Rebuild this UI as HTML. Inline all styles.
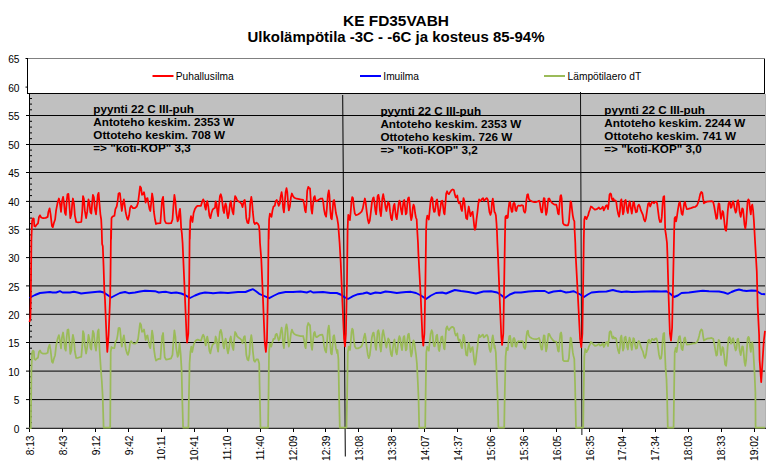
<!DOCTYPE html>
<html><head><meta charset="utf-8"><title>chart</title>
<style>
html,body{margin:0;padding:0;background:#fff;}
body{width:772px;height:472px;overflow:hidden;font-family:"Liberation Sans",sans-serif;}
svg{display:block;font-family:"Liberation Sans",sans-serif;}
.ax{font-size:10.2px;fill:#000;}
.an{font-size:11.7px;font-weight:bold;fill:#000;}
.ti{font-size:15px;font-weight:bold;fill:#000;text-anchor:middle;}
</style></head><body>
<svg width="772" height="472" viewBox="0 0 772 472">
<rect x="0" y="0" width="772" height="472" fill="#fff"/>
<text class="ti" x="396" y="25.7" textLength="106" lengthAdjust="spacingAndGlyphs">KE FD35VABH</text>
<text class="ti" x="396" y="41.8" textLength="297" lengthAdjust="spacingAndGlyphs">Ulkolämpötila -3C - -6C ja kosteus 85-94%</text>
<rect x="29" y="94" width="737" height="334.5" fill="#c0c0c0"/>
<rect x="765" y="94" width="1" height="334.5" fill="#b2b2b2"/>
<line x1="29" x2="765" y1="399.6" y2="399.6" stroke="#000" stroke-width="1"/>
<line x1="29" x2="765" y1="371.1" y2="371.1" stroke="#000" stroke-width="1"/>
<line x1="29" x2="765" y1="342.5" y2="342.5" stroke="#000" stroke-width="1"/>
<line x1="29" x2="765" y1="314.3" y2="314.3" stroke="#000" stroke-width="1"/>
<line x1="29" x2="765" y1="285.9" y2="285.9" stroke="#000" stroke-width="1"/>
<line x1="29" x2="765" y1="257.6" y2="257.6" stroke="#000" stroke-width="1"/>
<line x1="29" x2="765" y1="229.2" y2="229.2" stroke="#000" stroke-width="1"/>
<line x1="29" x2="765" y1="201.4" y2="201.4" stroke="#000" stroke-width="1"/>
<line x1="29" x2="765" y1="172.5" y2="172.5" stroke="#000" stroke-width="1"/>
<line x1="29" x2="765" y1="144.5" y2="144.5" stroke="#000" stroke-width="1"/>
<line x1="29" x2="765" y1="115.5" y2="115.5" stroke="#000" stroke-width="1"/>
<rect x="27" y="58" width="738" height="36" fill="#fff"/>
<line x1="27.5" x2="765" y1="58.5" y2="58.5" stroke="#808080" stroke-width="1.2"/>
<line x1="27" x2="765" y1="93.5" y2="93.5" stroke="#000" stroke-width="1"/>
<line x1="27.5" x2="27.5" y1="58" y2="94" stroke="#000" stroke-width="1"/>
<line x1="764.5" x2="764.5" y1="59" y2="94" stroke="#000" stroke-width="1"/>
<line x1="29.5" x2="29.5" y1="94" y2="429" stroke="#000" stroke-width="1"/>
<line x1="29" x2="766" y1="428.3" y2="428.3" stroke="#000" stroke-width="1"/>
<line x1="26" x2="30" y1="428.3" y2="428.3" stroke="#000" stroke-width="1"/>
<text class="ax" x="19.5" y="432.9" text-anchor="end">0</text>
<line x1="26" x2="30" y1="399.6" y2="399.6" stroke="#000" stroke-width="1"/>
<text class="ax" x="19.5" y="404.2" text-anchor="end">5</text>
<line x1="26" x2="30" y1="371.1" y2="371.1" stroke="#000" stroke-width="1"/>
<text class="ax" x="19.5" y="375.7" text-anchor="end">10</text>
<line x1="26" x2="30" y1="342.5" y2="342.5" stroke="#000" stroke-width="1"/>
<text class="ax" x="19.5" y="347.1" text-anchor="end">15</text>
<line x1="26" x2="30" y1="314.3" y2="314.3" stroke="#000" stroke-width="1"/>
<text class="ax" x="19.5" y="318.9" text-anchor="end">20</text>
<line x1="26" x2="30" y1="285.9" y2="285.9" stroke="#000" stroke-width="1"/>
<text class="ax" x="19.5" y="290.5" text-anchor="end">25</text>
<line x1="26" x2="30" y1="257.6" y2="257.6" stroke="#000" stroke-width="1"/>
<text class="ax" x="19.5" y="262.2" text-anchor="end">30</text>
<line x1="26" x2="30" y1="229.2" y2="229.2" stroke="#000" stroke-width="1"/>
<text class="ax" x="19.5" y="233.8" text-anchor="end">35</text>
<line x1="26" x2="30" y1="201.4" y2="201.4" stroke="#000" stroke-width="1"/>
<text class="ax" x="19.5" y="206.0" text-anchor="end">40</text>
<line x1="26" x2="30" y1="172.5" y2="172.5" stroke="#000" stroke-width="1"/>
<text class="ax" x="19.5" y="177.1" text-anchor="end">45</text>
<line x1="26" x2="30" y1="144.5" y2="144.5" stroke="#000" stroke-width="1"/>
<text class="ax" x="19.5" y="149.1" text-anchor="end">50</text>
<line x1="26" x2="30" y1="115.5" y2="115.5" stroke="#000" stroke-width="1"/>
<text class="ax" x="19.5" y="120.1" text-anchor="end">55</text>
<line x1="25.5" x2="28" y1="87.1" y2="87.1" stroke="#000" stroke-width="1"/>
<text class="ax" x="19.5" y="91.7" text-anchor="end">60</text>
<line x1="25.5" x2="28" y1="58.5" y2="58.5" stroke="#000" stroke-width="1"/>
<text class="ax" x="19.5" y="63.1" text-anchor="end">65</text>
<line x1="29.5" x2="32" y1="422.6" y2="422.6" stroke="#000" stroke-width="1"/>
<line x1="29.5" x2="32" y1="416.8" y2="416.8" stroke="#000" stroke-width="1"/>
<line x1="29.5" x2="32" y1="411.1" y2="411.1" stroke="#000" stroke-width="1"/>
<line x1="29.5" x2="32" y1="405.3" y2="405.3" stroke="#000" stroke-width="1"/>
<line x1="29.5" x2="32" y1="393.9" y2="393.9" stroke="#000" stroke-width="1"/>
<line x1="29.5" x2="32" y1="388.2" y2="388.2" stroke="#000" stroke-width="1"/>
<line x1="29.5" x2="32" y1="382.5" y2="382.5" stroke="#000" stroke-width="1"/>
<line x1="29.5" x2="32" y1="376.8" y2="376.8" stroke="#000" stroke-width="1"/>
<line x1="29.5" x2="32" y1="365.4" y2="365.4" stroke="#000" stroke-width="1"/>
<line x1="29.5" x2="32" y1="359.7" y2="359.7" stroke="#000" stroke-width="1"/>
<line x1="29.5" x2="32" y1="353.9" y2="353.9" stroke="#000" stroke-width="1"/>
<line x1="29.5" x2="32" y1="348.2" y2="348.2" stroke="#000" stroke-width="1"/>
<line x1="29.5" x2="32" y1="336.9" y2="336.9" stroke="#000" stroke-width="1"/>
<line x1="29.5" x2="32" y1="331.2" y2="331.2" stroke="#000" stroke-width="1"/>
<line x1="29.5" x2="32" y1="325.6" y2="325.6" stroke="#000" stroke-width="1"/>
<line x1="29.5" x2="32" y1="319.9" y2="319.9" stroke="#000" stroke-width="1"/>
<line x1="29.5" x2="32" y1="308.6" y2="308.6" stroke="#000" stroke-width="1"/>
<line x1="29.5" x2="32" y1="302.9" y2="302.9" stroke="#000" stroke-width="1"/>
<line x1="29.5" x2="32" y1="297.3" y2="297.3" stroke="#000" stroke-width="1"/>
<line x1="29.5" x2="32" y1="291.6" y2="291.6" stroke="#000" stroke-width="1"/>
<line x1="29.5" x2="32" y1="280.2" y2="280.2" stroke="#000" stroke-width="1"/>
<line x1="29.5" x2="32" y1="274.6" y2="274.6" stroke="#000" stroke-width="1"/>
<line x1="29.5" x2="32" y1="268.9" y2="268.9" stroke="#000" stroke-width="1"/>
<line x1="29.5" x2="32" y1="263.3" y2="263.3" stroke="#000" stroke-width="1"/>
<line x1="29.5" x2="32" y1="251.9" y2="251.9" stroke="#000" stroke-width="1"/>
<line x1="29.5" x2="32" y1="246.3" y2="246.3" stroke="#000" stroke-width="1"/>
<line x1="29.5" x2="32" y1="240.6" y2="240.6" stroke="#000" stroke-width="1"/>
<line x1="29.5" x2="32" y1="234.9" y2="234.9" stroke="#000" stroke-width="1"/>
<line x1="29.5" x2="32" y1="223.7" y2="223.7" stroke="#000" stroke-width="1"/>
<line x1="29.5" x2="32" y1="218.1" y2="218.1" stroke="#000" stroke-width="1"/>
<line x1="29.5" x2="32" y1="212.5" y2="212.5" stroke="#000" stroke-width="1"/>
<line x1="29.5" x2="32" y1="207.0" y2="207.0" stroke="#000" stroke-width="1"/>
<line x1="29.5" x2="32" y1="195.6" y2="195.6" stroke="#000" stroke-width="1"/>
<line x1="29.5" x2="32" y1="189.8" y2="189.8" stroke="#000" stroke-width="1"/>
<line x1="29.5" x2="32" y1="184.1" y2="184.1" stroke="#000" stroke-width="1"/>
<line x1="29.5" x2="32" y1="178.3" y2="178.3" stroke="#000" stroke-width="1"/>
<line x1="29.5" x2="32" y1="166.9" y2="166.9" stroke="#000" stroke-width="1"/>
<line x1="29.5" x2="32" y1="161.3" y2="161.3" stroke="#000" stroke-width="1"/>
<line x1="29.5" x2="32" y1="155.7" y2="155.7" stroke="#000" stroke-width="1"/>
<line x1="29.5" x2="32" y1="150.1" y2="150.1" stroke="#000" stroke-width="1"/>
<line x1="29.5" x2="32" y1="138.7" y2="138.7" stroke="#000" stroke-width="1"/>
<line x1="29.5" x2="32" y1="132.9" y2="132.9" stroke="#000" stroke-width="1"/>
<line x1="29.5" x2="32" y1="127.1" y2="127.1" stroke="#000" stroke-width="1"/>
<line x1="29.5" x2="32" y1="121.3" y2="121.3" stroke="#000" stroke-width="1"/>
<line x1="29.5" x2="32" y1="109.8" y2="109.8" stroke="#000" stroke-width="1"/>
<line x1="29.5" x2="32" y1="104.1" y2="104.1" stroke="#000" stroke-width="1"/>
<line x1="29.5" x2="32" y1="98.5" y2="98.5" stroke="#000" stroke-width="1"/>
<line x1="29.5" x2="29.5" y1="428.5" y2="432" stroke="#000" stroke-width="1"/>
<text class="ax" transform="translate(33.7,435.5) rotate(-90)" text-anchor="end">8:13</text>
<line x1="62.5" x2="62.5" y1="428.5" y2="432" stroke="#000" stroke-width="1"/>
<text class="ax" transform="translate(66.6,435.5) rotate(-90)" text-anchor="end">8:43</text>
<line x1="95.5" x2="95.5" y1="428.5" y2="432" stroke="#000" stroke-width="1"/>
<text class="ax" transform="translate(99.6,435.5) rotate(-90)" text-anchor="end">9:12</text>
<line x1="128.5" x2="128.5" y1="428.5" y2="432" stroke="#000" stroke-width="1"/>
<text class="ax" transform="translate(132.5,435.5) rotate(-90)" text-anchor="end">9:42</text>
<line x1="161.5" x2="161.5" y1="428.5" y2="432" stroke="#000" stroke-width="1"/>
<text class="ax" transform="translate(165.4,435.5) rotate(-90)" text-anchor="end">10:11</text>
<line x1="194.5" x2="194.5" y1="428.5" y2="432" stroke="#000" stroke-width="1"/>
<text class="ax" transform="translate(198.3,435.5) rotate(-90)" text-anchor="end">10:41</text>
<line x1="227.5" x2="227.5" y1="428.5" y2="432" stroke="#000" stroke-width="1"/>
<text class="ax" transform="translate(231.3,435.5) rotate(-90)" text-anchor="end">11:10</text>
<line x1="260.5" x2="260.5" y1="428.5" y2="432" stroke="#000" stroke-width="1"/>
<text class="ax" transform="translate(264.2,435.5) rotate(-90)" text-anchor="end">11:40</text>
<line x1="293.5" x2="293.5" y1="428.5" y2="432" stroke="#000" stroke-width="1"/>
<text class="ax" transform="translate(297.1,435.5) rotate(-90)" text-anchor="end">12:09</text>
<line x1="325.5" x2="325.5" y1="428.5" y2="432" stroke="#000" stroke-width="1"/>
<text class="ax" transform="translate(330.1,435.5) rotate(-90)" text-anchor="end">12:39</text>
<line x1="358.5" x2="358.5" y1="428.5" y2="432" stroke="#000" stroke-width="1"/>
<text class="ax" transform="translate(363.0,435.5) rotate(-90)" text-anchor="end">13:08</text>
<line x1="391.5" x2="391.5" y1="428.5" y2="432" stroke="#000" stroke-width="1"/>
<text class="ax" transform="translate(395.9,435.5) rotate(-90)" text-anchor="end">13:38</text>
<line x1="424.5" x2="424.5" y1="428.5" y2="432" stroke="#000" stroke-width="1"/>
<text class="ax" transform="translate(428.9,435.5) rotate(-90)" text-anchor="end">14:07</text>
<line x1="457.5" x2="457.5" y1="428.5" y2="432" stroke="#000" stroke-width="1"/>
<text class="ax" transform="translate(461.8,435.5) rotate(-90)" text-anchor="end">14:37</text>
<line x1="490.5" x2="490.5" y1="428.5" y2="432" stroke="#000" stroke-width="1"/>
<text class="ax" transform="translate(494.7,435.5) rotate(-90)" text-anchor="end">15:06</text>
<line x1="523.5" x2="523.5" y1="428.5" y2="432" stroke="#000" stroke-width="1"/>
<text class="ax" transform="translate(527.6,435.5) rotate(-90)" text-anchor="end">15:36</text>
<line x1="556.5" x2="556.5" y1="428.5" y2="432" stroke="#000" stroke-width="1"/>
<text class="ax" transform="translate(560.6,435.5) rotate(-90)" text-anchor="end">16:05</text>
<line x1="589.5" x2="589.5" y1="428.5" y2="432" stroke="#000" stroke-width="1"/>
<text class="ax" transform="translate(593.5,435.5) rotate(-90)" text-anchor="end">16:35</text>
<line x1="622.5" x2="622.5" y1="428.5" y2="432" stroke="#000" stroke-width="1"/>
<text class="ax" transform="translate(626.4,435.5) rotate(-90)" text-anchor="end">17:04</text>
<line x1="655.5" x2="655.5" y1="428.5" y2="432" stroke="#000" stroke-width="1"/>
<text class="ax" transform="translate(659.4,435.5) rotate(-90)" text-anchor="end">17:34</text>
<line x1="688.5" x2="688.5" y1="428.5" y2="432" stroke="#000" stroke-width="1"/>
<text class="ax" transform="translate(692.3,435.5) rotate(-90)" text-anchor="end">18:03</text>
<line x1="721.5" x2="721.5" y1="428.5" y2="432" stroke="#000" stroke-width="1"/>
<text class="ax" transform="translate(725.2,435.5) rotate(-90)" text-anchor="end">18:33</text>
<line x1="754.5" x2="754.5" y1="428.5" y2="432" stroke="#000" stroke-width="1"/>
<text class="ax" transform="translate(758.2,435.5) rotate(-90)" text-anchor="end">19:02</text>
<line x1="342.7" y1="95" x2="345.3" y2="456.5" stroke="#000" stroke-width="1"/>
<line x1="580.5" y1="92" x2="581.9" y2="435" stroke="#111" stroke-width="1"/>
<polyline fill="none" stroke="#9bbb59" stroke-width="1.75" stroke-linejoin="round" points="29.5,428.2 30.4,428.2 30.8,428.2 30.8,428.2 31.2,391.2 31.4,370.3 32.0,355.6 32.1,352.5 33.0,350.6 33.8,351.4 34.3,358.8 35.0,359.5 35.4,359.9 36.7,358.5 38.0,357.7 39.0,351.7 40.0,350.5 40.0,350.5 41.2,352.8 43.1,353.7 45.0,353.7 45.7,353.7 47.7,352.8 48.3,348.4 49.6,344.6 50.0,346.8 50.6,350.3 51.9,361.7 52.5,362.4 52.8,362.9 53.8,359.0 55.1,355.2 56.1,346.1 56.2,345.3 57.6,338.8 58.9,335.1 60.0,340.8 60.0,341.1 61.0,348.4 62.0,337.2 62.5,335.0 63.1,332.5 64.1,339.6 64.9,348.7 65.8,350.6 66.7,337.0 67.5,329.9 68.4,329.5 69.3,339.6 70.0,349.2 70.3,353.9 71.4,350.2 72.2,340.0 72.9,334.8 73.8,339.2 74.0,340.3 74.9,351.8 76.2,358.0 77.5,357.9 78.1,357.8 81.2,356.7 81.3,356.8 82.3,345.2 83.0,331.1 83.9,333.8 84.8,345.6 85.0,346.5 86.1,353.5 87.2,347.1 88.5,334.9 89.5,339.6 90.0,344.2 90.4,348.1 91.3,349.5 92.1,339.8 92.9,330.8 93.9,333.5 94.9,345.3 95.0,345.5 96.0,350.6 97.0,340.3 97.8,331.3 98.6,329.5 99.6,350.0 100.9,370.0 101.8,381.0 102.7,396.7 103.6,427.5 110.2,427.5 110.7,352.0 111.5,347.0 112.4,347.9 114.4,348.2 115.0,344.5 115.4,342.0 116.7,340.1 117.6,335.3 118.5,328.0 119.6,327.9 120.0,328.7 121.0,339.3 121.8,346.6 122.8,339.7 123.9,335.4 124.9,342.7 125.0,343.3 125.8,348.9 127.1,353.6 128.0,354.9 128.8,351.8 129.1,350.6 130.1,342.9 131.1,341.1 133.0,343.5 134.9,343.7 135.0,343.7 136.8,342.6 138.1,338.9 139.2,330.1 140.0,323.7 140.1,323.1 141.0,324.6 142.0,331.8 143.1,331.4 144.0,329.5 144.9,334.9 145.0,335.7 145.6,340.0 146.6,336.1 147.5,335.4 148.5,341.2 149.5,346.3 150.3,348.2 151.1,341.1 152.1,330.6 153.0,335.8 153.9,348.7 155.0,356.4 155.0,356.5 156.0,360.6 157.6,359.4 158.8,358.9 160.4,359.0 161.2,347.7 162.1,336.2 162.5,335.0 163.1,333.0 163.8,344.1 164.7,357.1 166.0,359.5 166.2,359.6 168.6,359.2 171.2,358.3 171.2,358.0 172.5,354.8 173.4,341.9 174.4,330.4 175.4,336.9 176.2,347.4 176.3,348.7 177.6,356.8 178.5,354.7 179.6,343.0 180.7,354.4 181.6,370.0 182.2,396.7 183.1,427.5 188.4,427.5 188.9,396.7 189.6,363.0 190.4,352.0 191.3,346.7 192.2,352.0 193.6,345.0 194.9,341.7 195.0,341.6 196.4,340.0 197.7,339.6 200.0,340.5 201.0,340.7 202.3,336.5 203.2,334.7 204.2,336.9 205.0,342.8 205.0,342.9 205.8,345.4 206.5,339.5 207.3,336.6 208.3,341.9 209.4,350.9 210.4,353.4 211.2,349.2 211.5,348.1 212.6,344.7 213.0,344.3 213.9,343.5 215.0,342.9 215.6,336.5 216.6,339.2 217.3,347.1 218.1,351.7 218.9,342.0 219.9,331.8 220.5,330.6 220.8,329.9 221.7,333.0 222.5,339.5 223.3,345.9 224.1,348.4 224.8,341.9 225.6,338.6 226.4,341.8 227.2,349.5 228.0,353.4 228.0,353.1 229.0,348.3 230.0,339.3 230.8,336.5 231.6,342.1 232.5,347.3 233.4,350.0 234.2,339.7 235.1,332.0 236.0,333.4 237.0,336.1 238.0,337.2 238.3,337.5 240.3,338.8 241.6,340.1 242.5,343.3 243.2,340.1 244.0,336.9 244.8,336.2 245.5,343.3 245.6,344.0 246.3,354.7 247.4,359.6 248.4,360.4 249.2,355.8 249.5,354.6 250.2,341.9 251.3,335.2 252.0,339.9 252.8,350.6 253.0,352.4 253.9,360.4 254.9,361.7 256.0,360.0 256.5,359.3 258.0,359.4 259.2,363.4 259.6,385.7 260.5,427.5 268.1,427.5 268.5,396.8 269.0,352.3 269.8,343.4 271.2,346.7 272.5,342.1 273.5,338.8 274.2,338.8 274.8,338.8 275.6,334.6 276.7,333.8 277.7,336.9 278.7,340.6 279.2,339.5 279.8,338.3 280.5,332.6 281.6,327.7 282.4,333.0 283.1,343.5 283.9,348.2 284.7,339.9 285.5,329.7 285.6,328.4 286.5,324.3 287.3,328.4 288.1,340.1 288.8,346.6 289.9,342.7 290.9,333.6 291.9,329.7 293.0,332.3 293.0,332.4 294.3,334.0 296.6,335.2 300.5,336.1 300.5,336.1 303.1,336.0 304.1,340.0 305.0,346.4 305.7,348.2 306.5,339.7 306.8,334.6 307.2,326.8 308.3,323.0 309.3,324.9 310.0,325.1 310.5,332.3 310.6,334.3 311.3,345.6 312.1,349.8 312.8,342.3 313.0,340.9 313.9,333.2 314.7,331.9 315.7,336.5 316.7,337.2 318.4,336.0 320.4,334.8 322.3,334.6 323.0,336.8 323.2,337.5 324.0,345.2 325.0,350.2 326.1,352.4 326.8,344.8 327.9,330.4 328.8,325.7 329.4,330.2 330.2,344.3 330.5,347.7 331.0,353.4 331.8,354.4 332.5,346.9 333.3,336.5 334.1,335.2 334.9,340.4 335.9,348.2 336.8,351.5 337.2,353.2 337.5,350.0 338.4,359.0 339.1,396.8 339.8,427.5 346.5,427.5 347.1,396.8 347.8,352.3 348.7,346.7 350.0,350.0 350.7,342.3 351.5,332.4 352.2,328.7 353.0,330.0 353.0,330.0 353.8,338.8 354.8,346.3 356.0,348.4 357.9,348.4 358.0,348.4 359.9,347.5 361.6,346.2 362.8,343.1 363.0,342.3 363.9,337.5 364.9,333.7 365.7,338.0 366.7,347.4 366.8,347.5 367.8,354.7 368.8,358.2 369.8,355.2 370.5,349.2 370.9,346.0 371.9,337.2 373.0,333.0 373.7,332.6 374.5,338.0 375.3,346.0 375.5,347.2 376.1,349.9 376.8,342.1 377.6,331.6 378.4,330.2 379.2,334.1 379.9,345.6 380.5,349.1 380.9,351.5 381.5,345.9 382.3,334.5 383.2,330.2 383.8,333.6 384.9,339.1 385.5,343.5 385.6,344.5 386.4,347.6 387.2,343.0 388.2,338.4 389.3,340.2 390.1,347.9 390.5,351.1 391.0,354.3 391.9,356.1 392.6,350.1 393.7,341.5 394.5,339.5 395.2,345.8 396.0,352.2 396.8,354.3 396.8,354.4 397.6,348.3 398.6,339.3 399.4,336.2 400.2,338.2 400.9,344.8 401.0,345.1 402.0,350.1 402.7,343.7 403.5,337.3 404.3,336.1 405.0,342.6 405.8,350.4 406.0,350.1 406.6,349.2 407.3,340.2 408.1,334.4 408.9,333.8 409.7,340.3 410.4,350.7 411.0,354.9 411.2,356.5 412.0,353.1 412.8,343.8 413.5,340.4 414.3,342.1 415.1,348.4 416.0,354.5 416.9,363.4 417.8,381.2 418.5,396.8 419.2,427.5 425.2,427.5 425.6,396.8 426.3,352.3 427.2,346.7 428.5,350.0 428.8,350.6 429.6,343.4 430.6,333.8 431.0,332.6 431.7,330.2 432.5,332.2 433.2,341.6 434.0,346.1 434.8,346.3 435.6,341.5 436.0,338.5 436.3,335.9 437.1,334.7 437.9,341.8 438.7,349.7 439.3,351.0 440.2,344.6 441.3,336.9 442.2,336.4 442.3,336.4 443.1,342.0 443.9,348.2 444.6,349.3 445.4,338.8 446.0,330.8 446.2,328.3 447.1,326.4 448.0,329.0 449.0,330.1 450.1,328.6 451.0,327.6 451.4,327.2 452.7,326.8 454.0,328.2 454.8,332.4 454.9,333.0 455.8,335.5 456.6,335.3 457.3,333.3 458.1,339.0 458.9,340.8 459.7,339.4 460.4,341.2 461.0,344.8 461.2,346.3 462.0,348.1 462.8,340.9 463.5,334.9 464.3,337.4 465.1,345.7 466.1,354.7 467.2,355.6 468.0,348.0 468.5,344.2 468.7,342.7 469.5,346.4 470.5,352.0 471.6,348.6 472.6,347.1 473.4,353.4 474.2,361.0 474.9,364.7 475.7,362.0 476.0,359.2 476.5,354.3 477.5,346.8 478.3,339.2 479.1,334.9 480.1,337.1 481.2,336.1 482.2,335.1 483.0,334.6 483.5,336.5 483.8,337.4 484.8,336.8 485.8,335.5 486.9,334.9 487.9,336.9 488.7,343.4 489.5,349.2 490.5,351.9 491.0,349.8 491.3,348.6 492.0,339.4 492.8,335.3 493.6,340.3 494.4,348.0 494.7,345.6 495.8,352.3 496.7,374.5 497.6,396.8 498.4,427.5 504.2,427.5 504.7,396.8 505.6,356.7 506.5,347.8 507.8,350.0 508.5,341.9 509.3,336.0 509.8,336.0 510.1,335.8 510.9,341.9 511.7,346.4 512.4,346.5 513.2,339.0 514.0,338.0 514.8,339.6 514.8,339.6 515.5,346.1 516.3,346.7 517.4,342.2 518.4,341.2 520.1,341.5 521.0,341.2 522.0,341.0 523.1,341.8 523.8,347.1 524.9,348.9 525.6,346.7 526.4,336.4 527.2,331.4 528.0,330.8 528.5,333.9 528.8,335.4 529.8,337.1 531.7,338.2 533.7,339.0 536.0,339.2 536.3,339.2 538.2,338.5 539.1,337.9 539.9,340.5 540.7,346.3 541.5,349.5 542.2,349.5 543.0,341.1 543.8,335.3 544.6,335.7 544.8,338.0 545.3,344.7 546.1,351.4 546.9,347.7 547.7,339.6 548.4,334.0 548.5,333.9 549.2,333.9 550.3,336.4 551.3,338.0 552.5,339.6 553.5,340.7 554.4,341.3 556.3,341.5 557.3,346.2 558.0,350.8 558.8,351.5 559.6,341.2 560.4,333.5 561.0,332.7 561.1,332.5 561.7,335.9 562.2,348.7 563.0,360.1 564.1,361.0 566.0,361.0 566.1,361.0 568.0,361.2 568.9,358.1 569.7,347.9 569.8,347.1 570.5,337.7 571.2,338.5 572.0,345.7 572.8,352.4 573.5,356.0 573.6,356.4 574.3,359.0 575.1,385.7 576.0,427.5 583.2,427.5 583.6,396.8 584.3,356.7 585.2,349.0 586.3,352.0 586.5,352.1 587.3,350.3 587.8,349.8 588.1,349.4 588.9,346.6 589.9,344.6 590.9,341.9 591.5,342.6 592.0,342.9 593.3,344.3 595.0,345.8 596.9,345.3 598.9,344.0 599.0,344.1 600.2,345.6 601.5,345.0 602.8,343.3 603.8,347.0 604.8,345.1 605.9,342.5 606.5,342.2 606.9,342.0 608.0,346.1 608.7,341.1 609.5,332.3 610.3,331.2 611.1,332.0 611.8,336.7 612.6,338.4 612.8,338.2 613.4,336.5 614.2,338.5 615.2,337.8 616.2,338.6 616.5,340.7 617.0,344.9 618.1,350.5 619.1,353.3 619.9,348.2 620.6,337.7 621.4,335.6 621.5,336.3 622.2,342.8 623.0,350.6 623.8,348.1 624.5,337.8 625.6,336.6 626.3,340.6 626.5,341.9 627.1,347.0 627.9,349.5 628.7,343.0 629.5,337.7 630.2,339.6 631.0,345.3 631.5,348.1 631.8,349.8 632.6,344.0 633.3,338.2 634.1,338.9 634.9,344.1 635.9,348.7 637.0,348.1 637.7,342.9 638.8,341.0 639.0,341.4 639.8,343.0 640.9,346.9 641.9,349.3 642.9,351.5 644.0,356.1 645.0,358.0 646.0,354.8 646.5,351.4 647.1,347.1 648.1,340.7 649.1,339.7 650.2,343.3 651.2,340.8 652.0,338.8 653.0,339.5 654.0,340.2 654.1,340.2 655.1,338.9 656.4,338.4 657.2,340.8 658.0,347.2 659.0,354.9 660.0,358.8 661.1,358.5 661.5,355.7 661.8,353.6 662.6,340.7 663.4,333.6 664.2,333.0 664.7,347.8 665.6,367.9 666.5,379.0 667.1,396.8 667.8,427.5 673.6,427.5 674.0,396.8 674.7,352.3 675.8,347.8 676.7,352.0 677.8,343.4 678.0,341.9 679.0,336.8 679.9,336.1 680.8,342.5 681.5,348.2 681.6,348.8 682.6,350.2 683.4,344.4 684.2,338.6 685.0,337.4 685.7,340.7 686.8,344.6 688.3,344.5 689.0,344.3 690.9,344.0 693.5,343.4 695.3,343.3 696.5,342.5 696.9,342.2 698.2,339.5 699.2,335.7 700.2,331.3 701.3,329.3 702.3,330.3 702.8,333.6 703.1,336.1 703.9,340.6 705.2,339.6 707.0,338.7 709.0,338.3 709.6,338.3 711.5,337.9 713.2,338.8 714.2,343.3 715.3,349.8 716.3,355.6 717.1,354.9 717.9,345.8 718.6,340.0 719.0,340.3 719.4,340.5 720.2,349.4 721.0,355.1 721.7,351.7 722.5,347.0 723.3,348.2 724.0,354.5 724.1,355.1 725.1,364.5 726.1,365.8 726.9,358.1 727.7,346.1 727.8,345.6 728.5,338.7 729.3,337.1 730.0,338.1 730.8,343.7 731.5,343.4 731.6,343.4 732.4,339.2 733.1,338.2 733.9,341.1 734.7,346.6 735.2,348.7 735.7,350.5 736.5,348.4 737.3,339.6 738.1,338.7 738.8,342.6 739.0,344.2 739.6,350.2 740.7,355.1 741.4,351.0 742.2,346.3 742.8,346.6 743.0,346.8 743.8,354.4 744.5,362.1 745.3,365.9 746.1,360.6 746.5,354.4 746.9,348.9 747.6,338.6 748.4,336.8 749.2,338.1 750.0,346.6 750.8,351.9 751.5,344.5 751.5,344.2 752.3,342.2 753.1,348.0 754.5,371.6 755.4,392.6 755.6,427.6 765.0,427.6"/>
<polyline fill="none" stroke="#0000ff" stroke-width="1.9" stroke-linejoin="round" points="29.5,298.0 32.0,296.5 35.0,295.0 40.0,293.0 45.0,292.5 50.0,292.0 52.5,292.5 56.2,292.5 60.0,291.2 62.5,292.5 70.0,292.5 73.8,291.8 77.5,292.5 81.2,293.5 85.0,293.0 90.0,292.5 95.0,292.0 100.0,291.5 103.8,292.5 107.5,295.0 111.2,297.5 115.0,295.5 120.0,293.0 125.0,292.0 128.8,293.2 135.0,292.5 140.0,291.5 145.0,290.8 155.0,291.2 158.8,292.5 162.5,292.0 166.2,291.8 171.2,293.0 176.2,292.5 181.2,293.5 185.0,295.0 190.0,298.0 195.0,295.5 200.0,293.5 205.0,292.5 211.2,293.0 213.0,293.2 220.5,292.5 228.0,293.0 238.0,292.0 245.5,292.0 249.2,290.5 253.0,289.2 256.0,291.2 259.2,293.8 263.0,295.5 269.2,298.2 274.2,295.5 279.2,293.2 285.5,292.0 293.0,292.0 300.5,291.5 306.8,292.5 310.5,291.2 313.0,292.5 323.0,292.0 330.5,293.0 336.8,293.0 340.5,294.5 344.2,297.0 348.0,299.0 353.0,296.2 358.0,294.2 363.0,293.5 366.8,292.5 370.5,294.0 375.5,292.5 380.5,293.0 385.5,291.5 390.5,292.0 396.8,293.0 401.0,292.5 406.0,292.0 411.0,291.8 416.0,293.0 421.0,295.5 426.0,299.0 431.0,295.5 436.0,293.0 442.2,292.5 446.0,293.5 451.0,291.5 454.8,290.0 461.0,291.0 468.5,292.0 476.0,293.5 483.5,291.5 491.0,291.2 497.2,292.5 501.0,295.0 504.8,298.0 509.8,294.5 514.8,292.5 521.0,292.5 528.5,291.5 536.0,291.0 544.8,291.0 548.5,293.0 553.5,291.5 561.0,290.8 566.0,292.5 569.8,292.0 573.5,291.2 577.2,293.0 579.0,293.8 584.0,297.0 587.8,294.5 591.5,292.5 599.0,291.8 606.5,291.5 612.8,290.0 616.5,291.0 621.5,292.0 626.5,291.5 631.5,292.0 639.0,291.8 646.5,291.5 654.0,291.2 661.5,291.5 666.5,291.2 670.2,293.8 674.0,297.0 677.8,295.5 681.5,293.0 689.0,292.5 696.5,291.5 702.8,290.8 709.0,291.2 719.0,291.5 724.0,292.5 727.8,293.8 731.5,292.0 735.2,290.5 739.0,289.5 742.8,290.5 746.5,291.0 751.5,290.5 756.5,290.8 759.0,292.5 761.5,294.0 765.2,294.2"/>
<polyline fill="none" stroke="#ff0000" stroke-width="1.75" stroke-linejoin="round" points="29.5,322.0 30.4,318.0 30.8,300.0 31.2,260.0 31.4,239.0 32.1,220.7 33.0,218.4 33.8,218.8 34.3,225.9 35.4,226.6 36.7,224.6 38.0,223.3 39.0,216.9 40.0,215.3 41.2,217.5 43.1,218.2 45.7,217.9 47.7,216.9 48.3,212.3 49.6,208.4 50.6,214.3 51.9,225.9 52.8,227.2 53.8,223.3 55.1,219.5 56.1,210.4 57.6,202.6 58.9,198.5 60.0,203.9 61.0,211.9 62.0,201.3 63.1,196.8 64.1,203.9 64.9,213.0 65.8,214.9 66.7,201.3 67.5,194.2 68.4,193.8 69.3,203.9 70.3,218.2 71.4,214.3 72.2,203.9 72.9,198.5 74.0,203.9 74.9,215.6 76.2,222.0 78.1,222.3 81.3,222.0 82.3,210.4 83.0,196.1 83.9,198.7 84.8,210.4 86.1,218.2 87.2,211.7 88.5,199.4 89.5,203.9 90.4,212.3 91.3,213.6 92.1,203.9 92.9,194.8 93.9,197.4 94.9,209.1 96.0,214.3 97.0,203.9 97.8,194.8 98.6,192.9 99.5,203.9 100.4,214.3 101.2,219.5 101.7,229.8 102.0,240.0 102.1,244.0 102.8,246.3 103.6,267.0 104.3,289.3 105.0,299.6 106.6,339.0 107.3,352.0 108.6,335.0 110.2,295.0 110.5,274.4 111.0,229.8 111.1,239.0 111.5,218.2 112.4,216.6 114.4,215.8 115.4,209.1 116.7,206.5 117.6,201.3 118.5,193.5 119.6,192.9 120.0,193.5 121.0,203.9 121.8,211.0 122.8,203.9 123.9,199.4 124.9,206.5 125.8,213.0 127.1,218.2 128.0,219.7 129.1,215.6 130.1,207.8 131.1,205.8 133.0,208.1 134.9,208.1 136.8,206.5 138.1,202.6 139.2,193.5 140.1,186.4 141.0,187.7 142.0,194.8 143.1,194.2 144.0,192.2 144.9,197.4 145.6,202.6 146.6,198.7 147.5,198.1 148.5,203.9 149.5,209.1 150.3,211.0 151.1,203.9 152.1,193.5 153.0,198.7 153.9,211.7 155.0,219.5 156.0,224.0 157.6,223.3 160.4,223.1 161.2,211.7 162.1,200.0 163.1,196.8 163.8,207.8 164.7,220.7 166.0,223.1 168.6,223.3 171.2,223.1 172.5,219.5 173.4,206.5 174.4,194.8 175.4,201.3 176.3,213.0 177.6,221.4 178.5,219.5 179.3,211.7 180.0,208.8 180.6,216.9 181.1,227.2 181.9,233.7 182.6,243.0 184.9,296.0 186.6,336.0 187.1,342.7 188.3,333.6 189.2,282.0 189.7,229.8 189.8,239.0 190.3,220.7 191.0,216.2 191.9,219.5 192.5,222.0 193.6,213.0 194.9,209.1 196.4,206.8 197.7,205.8 201.0,205.8 202.3,201.3 203.2,199.4 204.2,201.3 205.0,207.1 205.8,209.7 206.5,203.9 207.3,201.1 208.3,206.5 209.4,215.6 210.4,218.2 211.5,213.0 212.6,209.7 213.9,208.4 215.0,207.8 215.6,201.3 216.6,203.9 217.3,211.7 218.1,216.2 218.9,206.5 219.9,196.1 220.8,194.2 221.7,197.4 222.5,203.9 223.3,210.4 224.1,213.0 224.8,206.5 225.6,203.3 226.4,206.5 227.2,214.3 228.0,218.2 229.0,213.0 230.0,203.9 230.8,201.1 231.6,206.5 232.5,211.7 233.4,214.3 234.2,203.9 235.1,196.1 236.0,197.4 237.0,200.0 238.3,201.3 240.3,202.6 241.6,203.9 242.5,207.1 243.2,203.9 244.0,200.7 244.8,200.0 245.6,207.8 246.3,218.2 247.4,222.7 248.4,223.1 249.5,216.9 250.2,203.9 251.3,196.8 252.0,201.3 252.8,211.7 253.9,222.0 254.9,224.0 256.5,222.7 258.0,224.0 259.0,225.9 259.6,232.4 260.0,243.0 261.3,259.3 263.0,299.3 264.7,342.0 265.9,352.0 267.0,339.0 268.1,282.0 268.6,229.8 268.7,239.0 269.1,219.5 269.9,213.6 270.7,215.6 271.5,216.9 272.5,210.4 273.5,206.5 274.8,205.8 275.6,201.3 276.7,200.0 277.7,202.6 278.7,205.8 279.8,203.3 280.5,197.4 281.6,192.2 282.4,197.4 283.1,207.8 283.9,212.3 284.7,203.9 285.6,192.2 286.5,188.1 287.3,192.2 288.1,203.9 288.8,210.4 289.9,206.5 290.9,197.4 291.9,193.5 293.0,196.1 294.3,197.7 296.6,198.7 300.5,199.4 303.1,199.8 304.1,203.9 305.0,210.4 305.7,212.3 306.5,203.9 307.2,191.0 308.3,186.8 309.3,188.4 310.0,188.4 310.6,197.4 311.3,209.1 312.1,213.6 312.8,206.5 313.9,197.4 314.7,196.1 315.7,200.7 316.7,201.3 318.4,200.0 320.4,198.7 322.3,198.5 323.2,201.3 324.0,209.1 325.0,214.3 326.1,216.6 326.8,209.1 327.9,194.8 328.8,190.3 329.4,194.8 330.2,209.1 331.0,218.2 331.8,219.2 332.5,211.7 333.3,201.3 334.1,200.0 334.9,205.2 335.9,213.0 337.2,218.2 338.2,224.6 338.8,232.4 339.6,243.0 340.7,262.0 342.4,302.0 344.1,339.0 345.0,346.4 345.9,333.6 347.0,282.0 347.6,229.8 348.0,219.5 348.3,214.9 349.1,216.9 349.9,220.1 350.7,211.7 351.5,201.3 352.2,197.2 353.0,198.1 353.8,206.5 354.8,213.6 356.0,215.3 357.9,214.5 359.9,213.2 361.6,211.7 362.8,208.4 363.9,202.6 364.9,198.5 365.7,202.6 366.7,211.7 367.8,219.5 368.8,223.3 369.8,220.7 370.9,211.7 371.9,202.6 373.0,198.1 373.7,197.4 374.5,202.6 375.3,210.4 376.1,214.3 376.8,206.5 377.6,196.1 378.4,194.8 379.2,198.7 379.9,210.4 380.9,216.2 381.5,210.4 382.3,198.7 383.2,194.2 383.8,197.4 384.9,202.6 385.6,207.8 386.4,211.0 387.2,206.5 388.2,202.0 389.3,203.9 390.1,211.7 391.0,218.2 391.9,220.1 392.6,214.3 393.7,205.8 394.5,203.9 395.2,210.4 396.0,216.9 396.8,219.2 397.6,213.0 398.6,203.9 399.4,200.7 400.2,202.6 400.9,209.1 402.0,214.3 402.7,207.8 403.5,201.3 404.3,200.0 405.0,206.5 405.8,214.3 406.6,213.0 407.3,203.9 408.1,198.1 408.9,197.4 409.7,203.9 410.4,214.3 411.2,220.1 412.0,216.9 412.8,207.8 413.5,204.6 414.3,206.5 415.1,213.0 415.9,217.5 416.7,219.5 417.2,229.8 418.0,243.0 418.4,253.6 420.7,296.4 422.4,336.4 423.3,345.6 424.4,333.6 425.4,282.0 426.0,239.0 426.1,229.8 426.6,219.5 427.3,215.6 428.1,216.9 428.8,219.5 429.6,211.7 430.6,201.3 431.7,197.2 432.5,198.7 433.2,207.8 434.0,211.9 434.8,211.7 435.6,206.5 436.3,200.7 437.1,199.4 437.9,206.5 438.7,214.3 439.3,215.6 440.2,209.1 441.3,201.3 442.3,200.7 443.1,206.5 443.9,213.0 444.6,214.3 445.4,203.9 446.2,193.5 447.1,191.2 448.0,193.5 449.0,194.2 450.1,192.2 451.4,190.3 452.7,189.4 454.0,190.3 454.9,194.8 455.8,197.4 456.6,197.4 457.3,195.5 458.1,201.3 458.9,203.3 459.7,202.0 460.4,203.9 461.2,209.1 462.0,211.0 462.8,203.9 463.5,198.1 464.3,200.7 465.1,209.1 466.1,218.2 467.2,219.2 468.0,211.7 468.7,206.5 469.5,210.4 470.5,216.2 471.6,213.0 472.6,211.7 473.4,218.2 474.2,225.9 474.9,229.8 475.7,227.2 476.5,219.5 477.5,211.7 478.3,203.9 479.1,199.4 480.1,201.3 481.2,200.0 482.2,198.7 483.0,198.1 483.8,200.7 484.8,200.0 485.8,198.7 486.9,198.1 487.9,200.0 488.7,206.5 489.5,212.3 490.5,214.9 491.3,211.7 492.0,202.6 492.8,198.7 493.6,203.9 494.4,211.7 495.2,213.0 495.9,215.6 496.5,223.3 497.0,232.4 497.4,243.0 497.9,253.6 499.6,296.4 501.3,336.4 502.1,345.0 503.3,333.6 504.2,282.0 504.9,239.0 505.4,216.9 506.2,215.6 507.0,218.2 507.8,217.5 508.5,209.1 509.3,202.6 510.1,202.0 510.9,207.8 511.7,211.9 512.4,211.7 513.2,203.9 514.0,202.6 514.8,203.9 515.5,210.4 516.3,211.0 517.4,206.5 518.4,205.5 520.1,205.8 522.0,205.2 523.1,205.8 523.8,211.0 524.9,212.7 525.6,210.4 526.4,200.0 527.2,194.8 528.0,194.2 528.8,198.7 529.8,200.3 531.7,201.3 533.7,202.0 536.3,202.0 538.2,201.3 539.1,200.7 539.9,203.3 540.7,209.1 541.5,212.3 542.2,212.3 543.0,203.9 543.8,198.1 544.6,198.5 545.3,207.8 546.1,214.9 546.9,211.7 547.7,203.9 548.4,198.7 549.2,198.5 550.3,200.7 551.3,202.0 552.5,203.3 554.4,204.6 556.3,204.6 557.3,209.1 558.0,213.6 558.8,214.3 559.6,203.9 560.4,196.1 561.1,195.1 561.7,198.7 562.2,211.7 563.0,223.3 564.1,224.6 566.1,225.3 568.0,225.3 568.9,222.0 569.7,211.7 570.5,201.3 571.2,202.0 572.0,209.1 572.8,215.6 573.6,219.5 574.4,221.4 574.6,229.8 575.3,243.0 575.6,253.6 577.9,296.4 580.1,339.0 581.3,347.3 582.4,333.6 583.2,282.0 583.8,239.0 584.3,219.5 585.0,216.6 585.8,217.5 586.5,219.2 587.3,216.9 588.1,215.6 588.9,212.3 589.9,209.7 590.9,206.5 592.0,207.1 593.3,208.4 595.0,209.7 596.9,209.1 598.9,207.5 600.2,209.1 601.5,208.4 602.8,206.8 603.8,210.4 604.8,208.4 605.9,205.8 606.9,205.2 608.0,209.1 608.7,203.9 609.5,194.8 610.3,193.5 611.1,194.2 611.8,198.7 612.6,200.3 613.4,198.5 614.2,200.7 615.2,200.3 616.2,201.3 617.0,207.8 618.1,213.6 619.1,216.6 619.9,211.7 620.6,201.3 621.4,199.4 622.2,206.5 623.0,214.3 623.8,211.7 624.5,201.3 625.6,200.0 626.3,203.9 627.1,210.4 627.9,213.0 628.7,206.5 629.5,201.3 630.2,203.3 631.0,209.1 631.8,213.6 632.6,207.8 633.3,202.0 634.1,202.6 634.9,207.8 635.9,212.3 637.0,211.7 637.7,206.5 638.8,204.6 639.8,206.5 640.9,210.4 641.9,212.7 642.9,214.9 644.0,219.5 645.0,221.4 646.0,218.2 647.1,210.4 648.1,203.9 649.1,202.9 650.2,206.5 651.2,203.9 652.0,202.0 653.0,202.6 654.1,203.3 655.1,202.0 656.4,201.6 657.2,203.9 658.0,210.4 659.0,218.2 660.0,222.0 661.1,221.8 661.8,216.9 662.6,203.9 663.4,196.8 664.2,196.1 664.7,210.4 665.2,229.8 666.0,235.0 667.0,243.0 667.4,253.6 668.6,296.4 669.9,333.6 671.0,340.7 672.1,328.0 673.1,282.0 674.0,239.0 674.2,229.8 674.6,218.2 675.4,216.9 676.1,221.4 676.9,216.9 678.0,209.1 679.0,203.3 679.9,202.0 680.8,207.8 681.6,213.6 682.6,214.9 683.4,209.1 684.2,203.3 685.0,202.0 685.7,205.2 686.8,209.1 688.3,208.8 690.9,208.1 693.5,207.1 695.3,206.8 696.9,205.5 698.2,202.6 699.2,198.7 700.2,194.2 701.3,192.0 702.3,192.9 703.1,198.7 703.9,203.3 705.2,202.4 707.0,201.6 709.6,201.3 711.5,201.1 713.2,202.0 714.2,206.5 715.3,213.0 716.3,218.8 717.1,218.2 717.9,209.1 718.6,203.3 719.4,203.9 720.2,213.0 721.0,218.8 721.7,215.6 722.5,211.0 723.3,212.3 724.1,219.5 725.1,229.2 726.1,230.8 726.9,223.3 727.7,211.7 728.5,203.9 729.3,202.0 730.0,202.6 730.8,207.8 731.6,207.1 732.4,202.6 733.1,201.3 733.9,203.9 734.7,209.1 735.7,212.7 736.5,210.4 737.3,201.3 738.1,200.3 738.8,203.9 739.6,211.7 740.7,216.9 741.4,213.0 742.2,208.4 743.0,209.1 743.8,216.9 744.5,224.6 745.3,228.5 746.1,223.3 746.9,211.7 747.6,201.3 748.4,199.4 749.2,200.7 750.0,209.1 750.8,214.3 751.5,206.5 752.3,204.6 753.1,210.4 753.9,220.7 754.4,229.8 754.9,239.0 756.8,271.6 757.7,306.6 759.1,334.6 759.6,360.0 761.2,382.1 762.6,360.0 763.8,341.0 765.0,330.8"/>
<line x1="152.5" x2="173.5" y1="76" y2="76" stroke="#ff0000" stroke-width="2"/>
<text class="ax" x="175.8" y="80">Puhallusilma</text>
<line x1="360" x2="381" y1="76" y2="76" stroke="#0000ff" stroke-width="2"/>
<text class="ax" x="383.3" y="80">Imuilma</text>
<line x1="544" x2="565" y1="76" y2="76" stroke="#9bbb59" stroke-width="2"/>
<text class="ax" x="567.6" y="80">Lämpötilaero dT</text>
<text class="an" x="93.3" y="113.3">pyynti 22 C III-puh</text>
<text class="an" x="93.3" y="126.2">Antoteho keskim. 2353 W</text>
<text class="an" x="93.3" y="139.2">Ottoteho keskim. 708 W</text>
<text class="an" x="93.3" y="152.1">=&gt; "koti-KOP" 3,3</text>
<text class="an" x="380.4" y="115.0">pyynti 22 C III-puh</text>
<text class="an" x="380.4" y="127.9">Antoteho keskim. 2353 W</text>
<text class="an" x="380.4" y="140.9">Ottoteho keskim. 726 W</text>
<text class="an" x="380.4" y="153.8">=&gt; "koti-KOP" 3,2</text>
<text class="an" x="604.3" y="114.2">pyynti 22 C III-puh</text>
<text class="an" x="604.3" y="127.1">Antoteho keskim. 2244 W</text>
<text class="an" x="604.3" y="140.1">Ottoteho keskim. 741 W</text>
<text class="an" x="604.3" y="153.0">=&gt; "koti-KOP" 3,0</text>
</svg></body></html>
